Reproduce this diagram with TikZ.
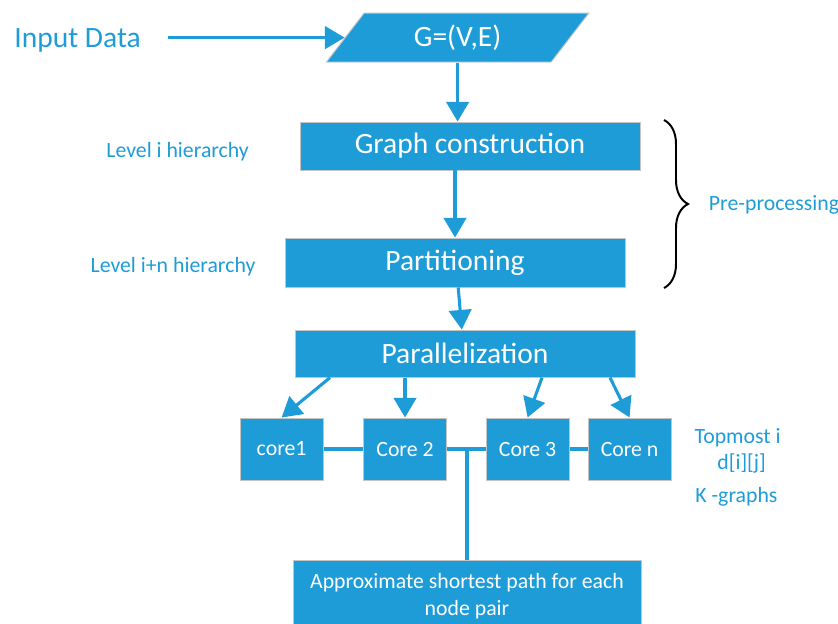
\documentclass[tikz,border=0pt]{standalone}
\usepackage{fontspec}
\setmainfont{Carlito}
\usetikzlibrary{positioning,shapes.geometric,arrows.meta,decorations.pathreplacing}

\definecolor{Fill}{HTML}{1E9CD8}
\definecolor{Edge}{HTML}{C4C4C4}
\newcommand{\bigfont}{\fontsize{21}{24}\selectfont}
\newcommand{\smallfont}{\fontsize{15.5}{19}\selectfont}

\tikzstyle{Process} = [fill=Fill,
                       draw=Edge,
                       line width=0.7pt,
                       rectangle,
                       text=white,
                       minimum width=8.5cm,
                       minimum height=1.2cm,
                       font=\bigfont]
\tikzstyle{Core} = [Process,
                    minimum width=2.08cm,
                    minimum height=1.55cm,
                    font=\smallfont]
\tikzstyle{Label} = [text=Fill, font=\smallfont]
\tikzstyle{flow} = [draw=Fill, line width=2.2pt,
                    -{Triangle[length=14pt,width=16pt]}]
\tikzstyle{link} = [draw=Fill, line width=2.2pt]

\begin{document}
\begin{tikzpicture}

    \useasboundingbox (0, 0) rectangle (20.95, -15.575);

    % Input
    \node (input) at (1.94, -1.0) [text=Fill, font=\bigfont] {Input Data};
    \node (graph) at (11.44, -0.94) [Process, trapezium, minimum width=6.6cm,
        minimum height=1.22cm, trapezium stretches=true,
        trapezium left angle=61, trapezium right angle=119] {G=(V,E)};

    % Main steps
    \node (gc) at (11.75, -3.65) [Process] {Graph construction};
    \node (part) at (11.375, -6.5625) [Process, minimum height=1.225cm] {Partitioning};
    \node (par) at (11.625, -8.84) [Process, minimum height=1.175cm] {Parallelization};

    % Cores
    \node (core1) at (7.04, -11.225) [Core] {core1};
    \node (core2) at (10.125, -11.225) [Core] {Core 2};
    \node (core3) at (13.19, -11.225) [Core] {Core 3};
    \node (coren) at (15.74, -11.225) [Core] {Core n};

    \node (approx) at (11.675, -14.9) [Process, minimum width=8.7cm, minimum height=1.8cm,
        align=center, font=\smallfont] {Approximate shortest path for each\\node pair};

    % Side labels
    \node (leveli) at (4.44, -3.8) [Label] {Level i hierarchy};
    \node (levelin) at (4.325, -6.675) [Label] {Level i+n hierarchy};
    \node (pre) at (17.6, -5.125) [Label, anchor=west] {Pre-processing};
    \node (topmost) at (18.44, -10.95) [Label] {Topmost i};
    \node (dij) at (18.54, -11.575) [Label] {d[i][j]};
    \node (kgraphs) at (18.41, -12.425) [Label] {K -graphs};

    % Brace
    \coordinate (bracetop) at (16.6, -3.0);
    \coordinate (bracebot) at (16.6, -7.2);
    \draw [line width=1.4pt, decorate, decoration={brace, amplitude=0.6cm}]
        (bracetop) -- (bracebot);

    % Lines
    \draw [flow] ([xshift=0.55cm]input.east |- graph.west) -- (graph.west);
    \draw [flow] (graph.south) -- (graph.south |- gc.north);
    \draw [flow] (gc.south -| part.north) -- (part.north);
    \draw [flow] ([xshift=0.08cm]part.south) -- ([xshift=-0.08cm]par.north);

    \draw [flow] ([xshift=-3.375cm]par.south) -- (core1.north);
    \draw [flow] (par.south -| core2.north) -- (core2.north);
    \draw [flow] ([xshift=1.925cm]par.south) -- (core3.north);
    \draw [flow] ([xshift=3.625cm]par.south) -- (coren.north);

    \draw [link] (core1) -- (core2);
    \draw [link] (core2) -- (core3);
    \draw [link] (core3) -- (coren);
    \draw [link] (approx.north) -- (approx.north |- core2.east);

\end{tikzpicture}
\end{document}
